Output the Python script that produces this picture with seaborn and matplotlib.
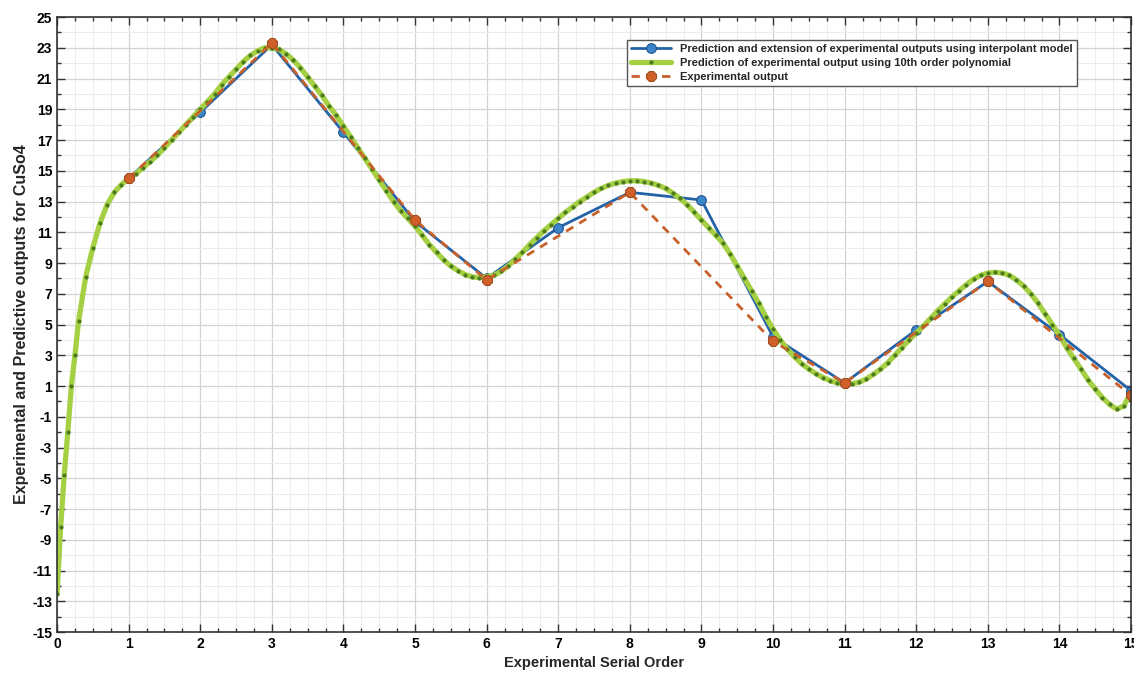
import numpy as np
import pandas as pd
import seaborn as sns
import matplotlib.pyplot as plt
from matplotlib.ticker import MultipleLocator

# interpolant model (blue), experiments 1..15
interp_x = list(range(1, 16))
interp_y = [14.5, 18.8, 23.2, 17.5, 11.7, 8.0, 11.3, 13.6, 13.1, 4.2, 1.2, 4.65, 7.8, 4.35, 0.7]

# experimental output (orange dashed)
exp_x = [1, 3, 5, 6, 8, 10, 11, 13, 15]
exp_y = [14.5, 23.3, 11.8, 7.9, 13.6, 3.9, 1.2, 7.8, 0.4]

# 10th order polynomial (green)
poly_x = [0, 0.05, 0.1, 0.15, 0.2, 0.25] + [round(0.3 + 0.1 * i, 1) for i in range(148)]
poly_y = [-12.5, -8.2, -4.8, -2.0, 1.0, 3.0,
          5.2, 8.1, 10.0, 11.6, 12.8, 13.6, 14.1,
          14.5, 14.8, 15.2, 15.6, 16.0, 16.5, 17.0, 17.5, 18.0, 18.5,
          19.0, 19.5, 20.0, 20.6, 21.1, 21.6, 22.1, 22.5, 22.8, 23.0,
          23.0, 22.9, 22.6, 22.2, 21.7, 21.1, 20.5, 19.9, 19.2, 18.6,
          17.9, 17.2, 16.5, 15.8, 15.1, 14.4, 13.7, 13.0, 12.4, 11.9,
          11.4, 10.8, 10.2, 9.7, 9.2, 8.8, 8.5, 8.25, 8.1, 8.05,
          8.1, 8.2, 8.45, 8.8, 9.25, 9.7, 10.2, 10.65, 11.1, 11.5,
          11.9, 12.3, 12.65, 13.0, 13.3, 13.6, 13.85, 14.05, 14.2, 14.3,
          14.35, 14.35, 14.3, 14.2, 14.05, 13.85, 13.55, 13.2, 12.8, 12.3,
          11.8, 11.3, 10.8, 10.3, 9.6, 8.8, 8.0, 7.2, 6.4, 5.5,
          4.7, 4.0, 3.4, 2.9, 2.45, 2.1, 1.8, 1.55, 1.35, 1.2,
          1.15, 1.15, 1.25, 1.45, 1.75, 2.1, 2.5, 3.0, 3.5, 4.0,
          4.45, 4.9, 5.4, 5.9, 6.35, 6.8, 7.2, 7.6, 7.95, 8.2,
          8.35, 8.4, 8.35, 8.2, 7.9, 7.5, 7.0, 6.4, 5.7, 5.0,
          4.3, 3.5, 2.8, 2.1, 1.4, 0.8, 0.25, -0.2, -0.5, -0.3,
          0.6]

df_interp = pd.DataFrame({'order': interp_x, 'out': interp_y})
df_exp = pd.DataFrame({'order': exp_x, 'out': exp_y})
df_poly = pd.DataFrame({'order': poly_x, 'out': poly_y})

sns.set_style("ticks")
plt.rcParams['font.family'] = ['Liberation Sans', 'DejaVu Sans']
plt.rcParams['font.weight'] = 'bold'
plt.rcParams['axes.unicode_minus'] = False

fig = plt.figure(figsize=(11.34, 6.82), dpi=100)
ax = fig.add_axes([0.0503, 0.0733, 0.9471, 0.9017])

sns.lineplot(data=df_interp, x='order', y='out', ax=ax, color='#2462a8', linewidth=2,
             marker='o', markersize=7, markerfacecolor='#3a86c8', markeredgecolor='#1f5090',
             label='Prediction and extension of experimental outputs using interpolant model')
sns.lineplot(data=df_poly, x='order', y='out', ax=ax, color='#a6d043', linewidth=3.8,
             marker='.', markersize=4.5, markerfacecolor='#4a7a1e', markeredgecolor='#4a7a1e',
             label='Prediction of experimental output using 10th order polynomial')
sns.lineplot(data=df_exp, x='order', y='out', ax=ax, color='#c8602a', linewidth=2, linestyle=(0, (3, 2.5)),
             marker='8', markersize=8, markerfacecolor='#d0602a', markeredgecolor='#a04a20',
             label='Experimental output')

ax.set_xlim(0, 15)
ax.set_ylim(-15, 25)
ax.set_xticks(range(0, 16))
ax.set_yticks(range(-15, 26, 2))
ax.xaxis.set_minor_locator(MultipleLocator(0.25))
ax.yaxis.set_minor_locator(MultipleLocator(1))
ax.grid(which='major', color='#d4d4d4', linewidth=0.9)
ax.grid(which='minor', color='#ececec', linewidth=0.7)
ax.set_axisbelow(True)
ax.tick_params(which='both', direction='in', top=True, right=True, width=1, colors='#333333',
               labelcolor='black', labelsize=10)
ax.tick_params(which='major', length=6)
ax.tick_params(which='minor', length=3)
for s in ax.spines.values():
    s.set_color('#333333')
    s.set_linewidth(1.2)
for lab in ax.get_xticklabels() + ax.get_yticklabels():
    lab.set_fontweight('bold')

ax.set_xlabel('Experimental Serial Order', fontsize=10.5, fontweight='bold', labelpad=4)
ax.set_ylabel('Experimental and Predictive outputs for CuSo4', fontsize=11.5, fontweight='bold', labelpad=2)

leg = ax.legend(loc='upper right', bbox_to_anchor=(0.955, 0.972), prop={'weight': 'bold', 'size': 8},
                frameon=True, fancybox=False, edgecolor='#555555', framealpha=1,
                handlelength=3.6, borderpad=0.4, labelspacing=0.35)
leg.get_frame().set_linewidth(1.0)

plt.savefig('out.png', dpi=100)
